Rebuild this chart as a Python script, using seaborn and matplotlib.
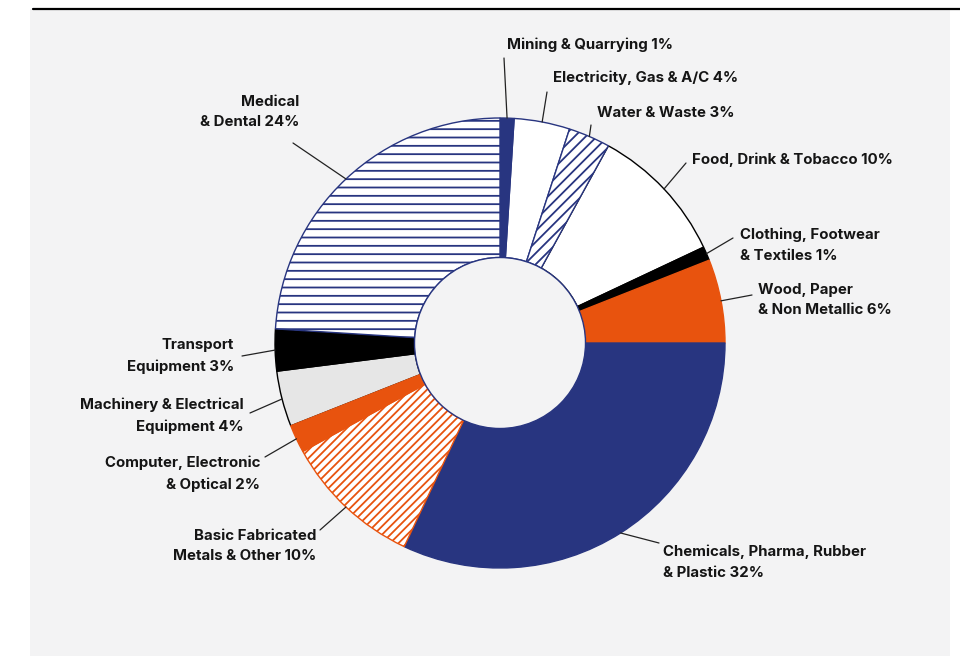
import numpy as np
import matplotlib
matplotlib.use("Agg")
import matplotlib.pyplot as plt
from matplotlib.patches import Rectangle, Circle
from matplotlib.lines import Line2D
import seaborn as sns

# data, clockwise from 12 o'clock
sectors = [
    "Mining & Quarrying 1%",
    "Electricity, Gas & A/C 4%",
    "Water & Waste 3%",
    "Food, Drink & Tobacco 10%",
    "Clothing, Footwear\n& Textiles 1%",
    "Wood, Paper\n& Non Metallic 6%",
    "Chemicals, Pharma, Rubber\n& Plastic 32%",
    "Basic Fabricated\nMetals & Other 10%",
    "Computer, Electronic\n& Optical 2%",
    "Machinery & Electrical\nEquipment 4%",
    "Transport\nEquipment 3%",
    "Medical\n& Dental 24%",
]
shares = [1, 4, 3, 10, 1, 6, 32, 10, 2, 4, 3, 24]

NAVY = "#283580"
ORANGE = "#e8530e"
BLACK = "#000000"
GREY = "#e6e6e6"
PANEL = "#f3f3f4"
WHITE = "#ffffff"

fills = [NAVY, WHITE, WHITE, WHITE, BLACK, ORANGE, NAVY, WHITE, ORANGE, GREY, BLACK, WHITE]
edges = [NAVY, NAVY, NAVY, BLACK, BLACK, ORANGE, NAVY, ORANGE, ORANGE, BLACK, BLACK, NAVY]
hatches = [None, None, "///", None, None, None, None, "////", None, None, None, "--"]

# label placement in pixels (text anchor, leader start)
label_xy = [(507, 45), (553, 78), (597, 113), (692, 160), (740, 245), (758, 300),
            (663, 562), (316, 546), (260, 474), (244, 416), (234, 356), (299, 112)]
leader_xy = [(504, 58), (547, 92), (591, 125), (686, 163), (733, 238), (752, 295),
             (659, 543), (320, 530), (265, 457), (250, 413), (242, 356), (293, 143)]

W, H = 960, 656
CX, CY, R = 500, 343, 225

sns.set_theme(style="white")
plt.rcParams["font.family"] = ["Inter", "DejaVu Sans"]
plt.rcParams["hatch.linewidth"] = 1.3

fig = plt.figure(figsize=(W / 100, H / 100), dpi=100, facecolor="white")
fig.add_artist(Rectangle((30 / W, 0), 920 / W, 1 - 9 / H, transform=fig.transFigure,
                         facecolor=PANEL, edgecolor="none", zorder=-1))
fig.add_artist(Line2D([33 / W, 1], [1 - 9 / H] * 2, transform=fig.transFigure,
                      color=BLACK, lw=1.6))

ax = fig.add_axes([0, 0, 1, 1])
ax.set_facecolor("none")


def to_data(p):
    return ((p[0] - CX) / R, (CY - p[1]) / R)


wedges, _ = ax.pie(shares, startangle=90, counterclock=False, radius=1,
                   wedgeprops=dict(width=0.62, linewidth=1.0))
for w, fc, ec, h in zip(wedges, fills, edges, hatches):
    w.set_facecolor(fc)
    w.set_edgecolor(ec)
    if h:
        w.set_hatch(h)
    # plain light wedges sit below their neighbours so only their outer arc shows
    w.set_zorder(1 if (fc in (WHITE, GREY) and not h) else 2)
ax.add_patch(Circle((0, 0), 0.38, facecolor=PANEL, edgecolor=NAVY, lw=1.0, zorder=3))

for w, name, txy, lxy in zip(wedges, sectors, label_xy, leader_xy):
    mid = np.deg2rad((w.theta1 + w.theta2) / 2)
    x0, y0 = to_data(lxy)
    ax.plot([x0, np.cos(mid)], [y0, np.sin(mid)], color="#222222", lw=0.9, zorder=4)
    tx, ty = to_data(txy)
    ha = "left" if txy[0] > CX else "right"
    ax.text(tx, ty, name, ha=ha, va="center", multialignment=ha, fontsize=10.8,
            fontweight="bold", color="#151515", linespacing=1.62)

ax.set_xlim(-CX / R, (W - CX) / R)
ax.set_ylim(-(H - CY) / R, CY / R)
ax.set_aspect("equal", adjustable="datalim")
ax.axis("off")

fig.savefig("out.png", dpi=100)
